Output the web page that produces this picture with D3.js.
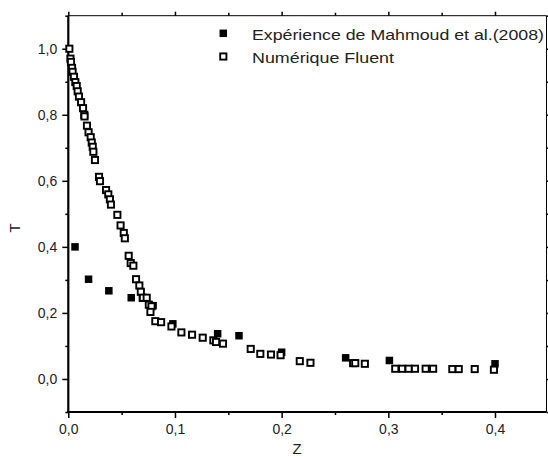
<!DOCTYPE html>
<html>
<head>
<meta charset="utf-8">
<script src="https://cdn.jsdelivr.net/npm/d3@7"></script>
<style>
  body { margin: 0; background: #fff; }
  svg { display: block; font-family: "Liberation Sans", Arial, sans-serif; }
</style>
</head>
<body>
<svg id="chart" width="548" height="457"></svg>
<script>
// experimental points (Mahmoud et al. 2008)
const expZ = [0.0063, 0.019, 0.038, 0.059, 0.0695, 0.0795, 0.098, 0.14, 0.16, 0.20, 0.26, 0.301, 0.40];
const expT = [0.400, 0.302, 0.267, 0.246, 0.245, 0.222, 0.167, 0.137, 0.131, 0.081, 0.064, 0.056, 0.046];

// numerical points (Fluent)
const numZ = [0.001, 0.002, 0.0025, 0.0035, 0.004, 0.0053, 0.0066, 0.0079, 0.0088, 0.010,
  0.012, 0.0138, 0.015, 0.0152, 0.0175, 0.019, 0.021, 0.022, 0.0229, 0.0235,
  0.025, 0.0288, 0.0297, 0.0354, 0.0375, 0.039, 0.040, 0.046, 0.049, 0.052,
  0.053, 0.0566, 0.0585, 0.061, 0.0635, 0.0666, 0.068, 0.070, 0.0735, 0.0755,
  0.078, 0.077, 0.0816, 0.087, 0.0967, 0.106, 0.116, 0.126, 0.136, 0.1385,
  0.145, 0.171, 0.180, 0.190, 0.199, 0.217, 0.227, 0.267, 0.269, 0.278,
  0.3065, 0.313, 0.319, 0.325, 0.335, 0.342, 0.360, 0.366, 0.381, 0.399];
const numT = [1.000, 0.970, 0.960, 0.942, 0.930, 0.915, 0.899, 0.887, 0.871, 0.855,
  0.838, 0.820, 0.800, 0.795, 0.767, 0.747, 0.732, 0.716, 0.703, 0.688,
  0.663, 0.612, 0.599, 0.572, 0.559, 0.544, 0.528, 0.497, 0.465, 0.442,
  0.426, 0.373, 0.351, 0.343, 0.302, 0.283, 0.264, 0.246, 0.246, 0.225,
  0.220, 0.203, 0.175, 0.172, 0.159, 0.141, 0.134, 0.125, 0.117, 0.112,
  0.107, 0.091, 0.076, 0.074, 0.072, 0.054, 0.049, 0.048, 0.048, 0.046,
  0.031, 0.031, 0.031, 0.031, 0.031, 0.031, 0.030, 0.030, 0.030, 0.028];

const xMajor = [0, 0.1, 0.2, 0.3, 0.4];
const xMinor = [0.05, 0.15, 0.25, 0.35];
const yMajor = [0, 0.2, 0.4, 0.6, 0.8, 1.0];
const yMinor = [-0.1, 0.1, 0.3, 0.5, 0.7, 0.9, 1.1];

const legendLabels = ["Expérience de Mahmoud et al.(2008)", "Numérique Fluent"];

const svg = d3.select("#chart");
const pLeft = 68.3, pRight = 546.5, pTop = 15.7, pBottom = 412;

const x = d3.scaleLinear().domain([0, 0.4]).range([pLeft, 495]);
const y = d3.scaleLinear().domain([-0.1, 1.1]).range([pBottom, pTop]);

const fmt = d => d3.format(".1f")(d).replace(".", ",");

// minor ticks (no labels)
const minorAxis = (axis, vals) => axis.tickValues(vals).tickSize(3).tickFormat("");

svg.append("g").attr("transform", `translate(0,${pBottom})`)
  .call(minorAxis(d3.axisBottom(x), xMinor));
svg.append("g").attr("transform", `translate(0,${pTop})`)
  .call(minorAxis(d3.axisTop(x), xMinor));
svg.append("g").attr("transform", `translate(${pLeft},0)`)
  .call(minorAxis(d3.axisLeft(y), yMinor));
svg.append("g").attr("transform", `translate(${pRight},0)`)
  .call(minorAxis(d3.axisRight(y), yMinor));

// major ticks
svg.append("g").attr("class", "xaxis").attr("transform", `translate(0,${pBottom})`)
  .call(d3.axisBottom(x).tickValues(xMajor).tickSize(6).tickPadding(6).tickFormat(fmt));
svg.append("g").attr("transform", `translate(0,${pTop})`)
  .call(d3.axisTop(x).tickValues(xMajor).tickSize(4).tickFormat(""));
svg.append("g").attr("class", "yaxis").attr("transform", `translate(${pLeft},0)`)
  .call(d3.axisLeft(y).tickValues(yMajor).tickSize(6).tickPadding(5).tickFormat(fmt));
svg.append("g").attr("transform", `translate(${pRight},0)`)
  .call(d3.axisRight(y).tickValues(yMajor).tickSize(4).tickFormat(""));

svg.selectAll(".domain").remove();
svg.selectAll(".tick line").attr("stroke", "#000").attr("stroke-width", 1.5);
svg.selectAll(".tick text")
  .attr("font-family", "Liberation Sans, Arial, sans-serif")
  .attr("font-size", 14).attr("fill", "#222");

// frame
svg.append("line").attr("x1", pLeft).attr("x2", pRight).attr("y1", pTop).attr("y2", pTop)
  .attr("stroke", "#000").attr("stroke-width", 1);
svg.append("line").attr("x1", pRight).attr("x2", pRight).attr("y1", pTop).attr("y2", pBottom)
  .attr("stroke", "#000").attr("stroke-width", 1);
svg.append("line").attr("x1", pLeft).attr("x2", pLeft).attr("y1", pTop).attr("y2", pBottom + 1)
  .attr("stroke", "#000").attr("stroke-width", 2.2);
svg.append("line").attr("x1", pLeft - 1).attr("x2", pRight).attr("y1", pBottom).attr("y2", pBottom)
  .attr("stroke", "#000").attr("stroke-width", 2.2);

// axis titles
svg.append("text").attr("transform", "translate(20,228) rotate(-90)")
  .attr("text-anchor", "middle").attr("font-size", 15).attr("fill", "#222").text("T");
svg.append("text").attr("x", 297).attr("y", 454)
  .attr("text-anchor", "middle").attr("font-size", 15).attr("fill", "#222").text("Z");

// data
const sq = 7.5;     // filled marker size
const osq = 6.2;    // open marker inner size
const ow = 1.9;     // open marker stroke
const expData = expZ.map((z, i) => ({ z, t: expT[i] }));
const numData = numZ.map((z, i) => ({ z, t: numT[i] }));

svg.append("g").selectAll("rect").data(expData).join("rect")
  .attr("x", d => x(d.z) - sq / 2).attr("y", d => y(d.t) - sq / 2)
  .attr("width", sq).attr("height", sq).attr("fill", "#000");

svg.append("g").selectAll("rect").data(numData).join("rect")
  .attr("x", d => x(d.z) - osq / 2).attr("y", d => y(d.t) - osq / 2)
  .attr("width", osq).attr("height", osq)
  .attr("fill", "#fff").attr("stroke", "#000").attr("stroke-width", ow);

// legend
const legend = svg.append("g");
const lgY = [33.3, 56.5];
const lgLen = [292, 142];
legendLabels.forEach((lab, i) => {
  if (i === 0) {
    legend.append("rect").attr("x", 223.3 - sq / 2).attr("y", lgY[i] - sq / 2)
      .attr("width", sq).attr("height", sq).attr("fill", "#000");
  } else {
    legend.append("rect").attr("x", 223.3 - osq / 2).attr("y", lgY[i] - osq / 2)
      .attr("width", osq).attr("height", osq)
      .attr("fill", "#fff").attr("stroke", "#000").attr("stroke-width", ow);
  }
  legend.append("text").attr("x", 252).attr("y", lgY[i] + 6.5)
    .attr("font-size", 15).attr("fill", "#222")
    .attr("textLength", lgLen[i]).attr("lengthAdjust", "spacingAndGlyphs")
    .text(lab);
});
</script>
</body>
</html>
